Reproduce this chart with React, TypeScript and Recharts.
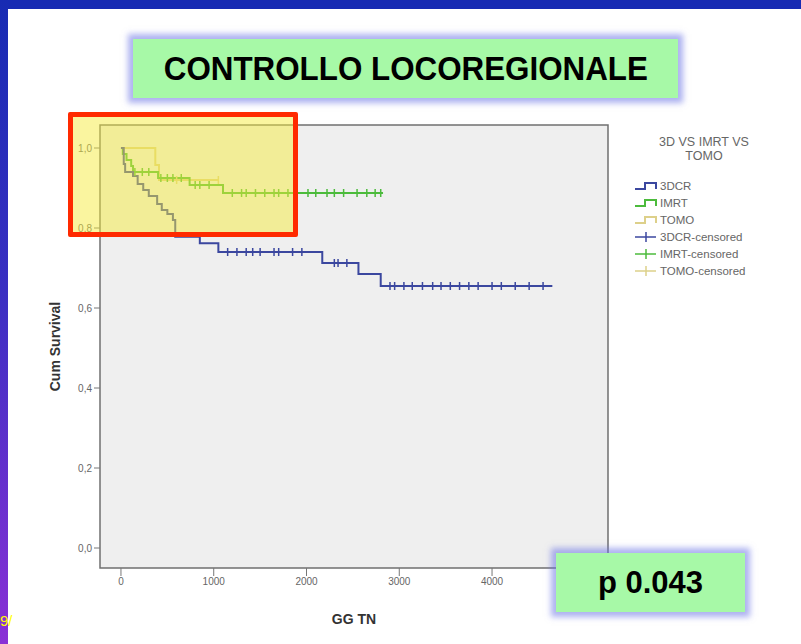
import {
  ComposedChart,
  Line,
  Scatter,
  XAxis,
  YAxis,
  ReferenceArea,
  Label,
} from "recharts";

// survival steps (days, cumulative survival)
const days3dcr = [0, 30, 45, 130, 180, 240, 300, 390, 440, 500, 560, 585, 850, 1050, 2170, 2560, 2800, 4650];
const surv3dcr = [1.0, 0.96, 0.94, 0.93, 0.91, 0.895, 0.88, 0.86, 0.845, 0.835, 0.82, 0.778, 0.762, 0.74, 0.7125, 0.685, 0.655, 0.655];

const daysImrt = [0, 20, 60, 110, 130, 400, 740, 1100, 2825];
const survImrt = [1.0, 0.985, 0.97, 0.955, 0.94, 0.925, 0.9075, 0.8875, 0.8875];

const daysTomo = [0, 370, 410, 1050];
const survTomo = [1.0, 0.9575, 0.92, 0.92];

// censored times
const cens3dcr = [1150, 1250, 1350, 1420, 1500, 1650, 1700, 1850, 1950, 2300, 2340, 2435, 2900, 2950, 3050, 3140, 3250, 3360, 3450, 3550, 3650, 3750, 3850, 4000, 4100, 4250, 4400, 4550];
const censImrt = [150, 230, 300, 430, 500, 560, 650, 800, 850, 950, 1200, 1300, 1350, 1450, 1550, 1650, 1700, 1800, 1900, 2016, 2100, 2221, 2300, 2400, 2545, 2650, 2740, 2800];
const censTomo = [600, 1050];

const xTicks = [0, 1000, 2000, 3000, 4000];
const yTicks = [0, 0.2, 0.4, 0.6, 0.8, 1.0];

const groups = ["3DCR", "IMRT", "TOMO"];
const colors = ["#3b479f", "#4cbb3c", "#ddd08a"];

const toSteps = (d: number[], s: number[]) => d.map((t, i) => ({ t, s: s[i] }));
const survAt = (d: number[], s: number[], t: number) => {
  let v = s[0];
  d.forEach((dt, i) => {
    if (dt <= t) v = s[i];
  });
  return v;
};
const toCens = (c: number[], d: number[], s: number[]) => c.map((t) => ({ t, s: survAt(d, s, t) }));

const lines = [toSteps(days3dcr, surv3dcr), toSteps(daysImrt, survImrt), toSteps(daysTomo, survTomo)];
const cens = [
  toCens(cens3dcr, days3dcr, surv3dcr),
  toCens(censImrt, daysImrt, survImrt),
  toCens(censTomo, daysTomo, survTomo),
];

const tickShape = (color: string) => (props: any) => (
  <line x1={props.cx} y1={props.cy - 4} x2={props.cx} y2={props.cy + 4} stroke={color} strokeWidth={1.5} />
);

const LegendBox = () => (
  <div style={{ fontFamily: "Liberation Sans, Arial, sans-serif", color: "#666", width: 150 }}>
    <div style={{ textAlign: "center", fontSize: 12.5, lineHeight: "14px", marginBottom: 14, marginLeft: -6 }}>
      3D VS IMRT VS
      <br />
      TOMO
    </div>
    {groups.map((g, i) => (
      <div key={g} style={{ display: "flex", alignItems: "center", height: 17, fontSize: 11.5 }}>
        <svg width={28} height={12}>
          <path d="M3 9 H13 V3 H24 V9" fill="none" stroke={colors[i]} strokeWidth={2} />
        </svg>
        <span>{g}</span>
      </div>
    ))}
    {groups.map((g, i) => (
      <div key={g + "c"} style={{ display: "flex", alignItems: "center", height: 17, fontSize: 11.5 }}>
        <svg width={28} height={12}>
          <line x1={3} y1={6} x2={24} y2={6} stroke={colors[i]} strokeWidth={1.5} />
          <line x1={14} y1={1} x2={14} y2={11} stroke={colors[i]} strokeWidth={1.5} />
        </svg>
        <span>{g}-censored</span>
      </div>
    ))}
  </div>
);

const greenBox: React.CSSProperties = {
  position: "absolute",
  background: "#a7f9a7",
  boxShadow: "0 0 6px 5px rgba(105,115,228,0.55)",
  display: "flex",
  alignItems: "center",
  justifyContent: "center",
  fontFamily: "Liberation Sans, Arial, sans-serif",
  fontWeight: "bold",
  color: "#000",
};

export default function App() {
  return (
    <div
      style={{
        position: "absolute",
        left: 0,
        top: 0,
        width: 801,
        height: 644,
        background: "#fff",
        overflow: "hidden",
      }}
    >
      <div style={{ position: "absolute", left: 0, top: 0, width: 801, height: 9, background: "#172bb3" }} />
      <div
        style={{
          position: "absolute",
          left: 0,
          top: 0,
          width: 8,
          height: 644,
          background: "linear-gradient(to bottom, #172bb3 0%, #3a2fc2 45%, #8a30d6 100%)",
        }}
      />
      <span
        style={{
          position: "absolute",
          left: 0,
          top: 612,
          color: "#ffff00",
          fontSize: 15,
          fontFamily: "Liberation Sans, Arial, sans-serif",
        }}
      >
        9/
      </span>

      <div style={{ position: "absolute", left: 0, top: 0 }}>
        <ComposedChart width={801} height={644} margin={{ top: 125, right: 193, bottom: 18, left: 40 }}>
          <XAxis
            dataKey="t"
            type="number"
            domain={[-226, 5250]}
            ticks={xTicks}
            allowDataOverflow
            axisLine={false}
            tickSize={8}
            tickLine={{ stroke: "#777" }}
            tick={{ fontSize: 10, fill: "#666", fontFamily: "Liberation Sans, Arial" }}
            height={58}
          >
            <Label
              value="GG TN"
              position="insideBottom"
              offset={2}
              style={{ fontSize: 14, fontWeight: "bold", fill: "#333", fontFamily: "Liberation Sans, Arial" }}
            />
          </XAxis>
          <YAxis
            dataKey="s"
            type="number"
            domain={[-0.05, 1.0575]}
            ticks={yTicks}
            allowDataOverflow
            axisLine={false}
            tickSize={6}
            tickLine={{ stroke: "#777" }}
            tick={{ fontSize: 10, fill: "#666", fontFamily: "Liberation Sans, Arial" }}
            tickFormatter={(v: number) => v.toFixed(1).replace(".", ",")}
            width={60}
          >
            <Label
              value="Cum Survival"
              angle={-90}
              position="insideLeft"
              offset={15}
              style={{
                textAnchor: "middle",
                fontSize: 14,
                fontWeight: "bold",
                fill: "#333",
                fontFamily: "Liberation Sans, Arial",
              }}
            />
          </YAxis>
          <ReferenceArea
            x1={-226}
            x2={5250}
            y1={-0.05}
            y2={1.0575}
            fill="#efefef"
            fillOpacity={1}
            stroke="#707070"
            strokeWidth={1.5}
          />
          {lines.map((d, i) => (
            <Line
              key={groups[i]}
              data={d}
              dataKey="s"
              type="stepAfter"
              stroke={colors[i]}
              strokeWidth={2}
              dot={false}
              isAnimationActive={false}
            />
          )).reverse()}
          {cens.map((d, i) => (
            <Scatter
              key={groups[i] + "c"}
              data={d}
              dataKey="s"
              shape={tickShape(colors[i])}
              isAnimationActive={false}
            />
          ))}
        </ComposedChart>
      </div>

      <div style={{ position: "absolute", left: 632, top: 135 }}>
        <LegendBox />
      </div>

      <div
        style={{
          position: "absolute",
          left: 68,
          top: 112,
          width: 230,
          height: 125,
          boxSizing: "border-box",
          border: "5px solid #ff2a00",
          borderRadius: 2,
          background: "rgba(245,235,60,0.49)",
        }}
      />

      <div style={{ ...greenBox, left: 133, top: 39, width: 545, height: 59 }}>
        <span style={{ fontSize: 33, display: "inline-block", transform: "scaleX(0.95)" }}>
          CONTROLLO LOCOREGIONALE
        </span>
      </div>
      <div style={{ ...greenBox, left: 556, top: 553, width: 189, height: 59, fontSize: 31 }}>p 0.043</div>
    </div>
  );
}
